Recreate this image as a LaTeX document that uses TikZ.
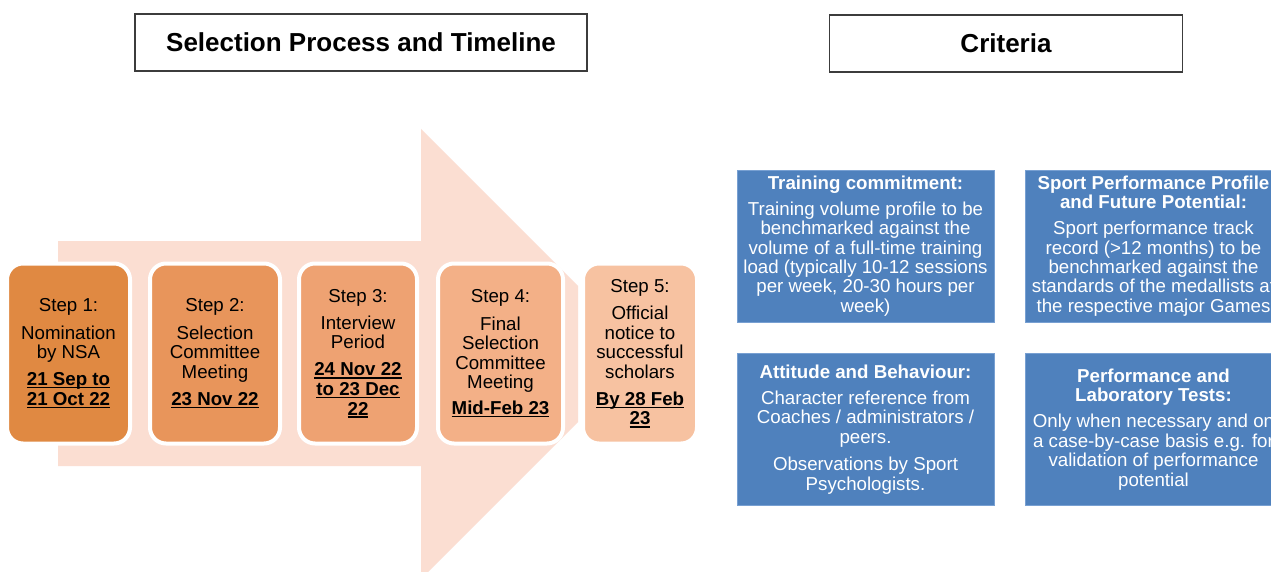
\documentclass[tikz,border=0pt]{standalone}
\usepackage{fontspec}
\setmainfont{Liberation Sans}
\definecolor{arrowpink}{RGB}{251,222,210}
\definecolor{stepA}{RGB}{224,137,66}
\definecolor{stepB}{RGB}{232,149,91}
\definecolor{stepC}{RGB}{238,162,114}
\definecolor{stepD}{RGB}{243,176,135}
\definecolor{stepE}{RGB}{247,194,161}
\definecolor{critblue}{RGB}{79,129,189}
\definecolor{critedge}{RGB}{120,160,210}
\definecolor{titleedge}{RGB}{60,60,60}
\newcommand\myul[1]{\setbox0\hbox{#1}\rlap{\rule[-2.7pt]{\wd0}{1.4pt}}\box0}
\tikzset{
  titlebox/.style={draw=titleedge, line width=1.2pt, fill=white, minimum height=57pt, inner sep=0pt,
    font=\fontsize{26pt}{30pt}\selectfont\bfseries},
  stepbox/.style={rounded corners=16pt, draw=white, line width=4pt, minimum height=180pt, inner sep=0pt,
    align=center, text=black, font=\fontsize{18.7pt}{19.6pt}\selectfont},
  critbox/.style={fill=critblue, draw=critedge, line width=0.8pt, minimum width=257pt, minimum height=152pt,
    inner sep=0pt, align=center, text=white, font=\fontsize{18.7pt}{19.4pt}\selectfont}
}
\begin{document}
\begin{tikzpicture}[x=1pt,y=-1pt]
\useasboundingbox (0,0) rectangle (1271,572);
\clip (0,0) rectangle (1271,572);
\fill[white] (0,0) rectangle (1271,572);
% titles
\node[titlebox, minimum width=452pt] (t1) at (361,42.5) {Selection Process and Timeline};
\node[titlebox, minimum width=353pt] (t2) at (1006,43.5) {Criteria};
% big arrow
\fill[arrowpink] (58,241) -- (421,241) -- (421,129) -- (578,286) -- (578,422) -- (421,579) -- (421,466) -- (58,466) -- cycle;
% steps
\node[stepbox, fill=stepA, minimum width=123pt] (s1) at (68.5,353.5)
  {Step 1:\\[7.5pt]Nomination\\by NSA\\[7.5pt]\myul{\bfseries 21 Sep to}\\\myul{\bfseries 21 Oct 22}};
\node[stepbox, fill=stepB, minimum width=130pt] (s2) at (215,353.5)
  {Step 2:\\[7.5pt]Selection\\Committee\\Meeting\\[7.5pt]\myul{\bfseries 23 Nov 22}};
\node[stepbox, fill=stepC, minimum width=118pt] (s3) at (358,353.5)
  {Step 3:\\[7.5pt]Interview\\Period\\[7.5pt]\myul{\bfseries 24 Nov 22}\\\myul{\bfseries to 23 Dec}\\\myul{\bfseries 22}};
\node[stepbox, fill=stepD, minimum width=125pt] (s4) at (500.5,353.5)
  {Step 4:\\[7.5pt]Final\\Selection\\Committee\\Meeting\\[6pt]\myul{\bfseries Mid-Feb 23}};
\node[stepbox, fill=stepE, minimum width=114pt] (s5) at (640,353.5)
  {Step 5:\\[7.5pt]Official\\notice to\\successful\\scholars\\[7.5pt]\myul{\bfseries By 28 Feb}\\\myul{\bfseries 23}};
% criteria
\node[critbox] (c1) at (865.5,246)
  {\textbf{Training commitment:}\\[6.5pt]Training volume profile to be\\benchmarked against the\\volume of a full-time training\\load (typically 10-12 sessions\\per week, 20-30 hours per\\week)};
\node[critbox] (c2) at (1153.5,246)
  {\textbf{Sport Performance Profile}\\\textbf{and Future Potential:}\\[6.5pt]Sport performance track\\record (>12 months) to be\\benchmarked against the\\standards of the medallists at\\the respective major Games};
\node[critbox] (c3) at (865.5,429.5)
  {\textbf{Attitude and Behaviour:}\\[6.5pt]Character reference from\\Coaches / administrators /\\peers.\\[8pt]Observations by Sport\\Psychologists.};
\node[critbox] (c4) at (1153.5,429.5)
  {\textbf{Performance and}\\\textbf{Laboratory Tests:}\\[6.5pt]Only when necessary and on\\a case-by-case basis e.g. for\\validation of performance\\potential};
\end{tikzpicture}
\end{document}
